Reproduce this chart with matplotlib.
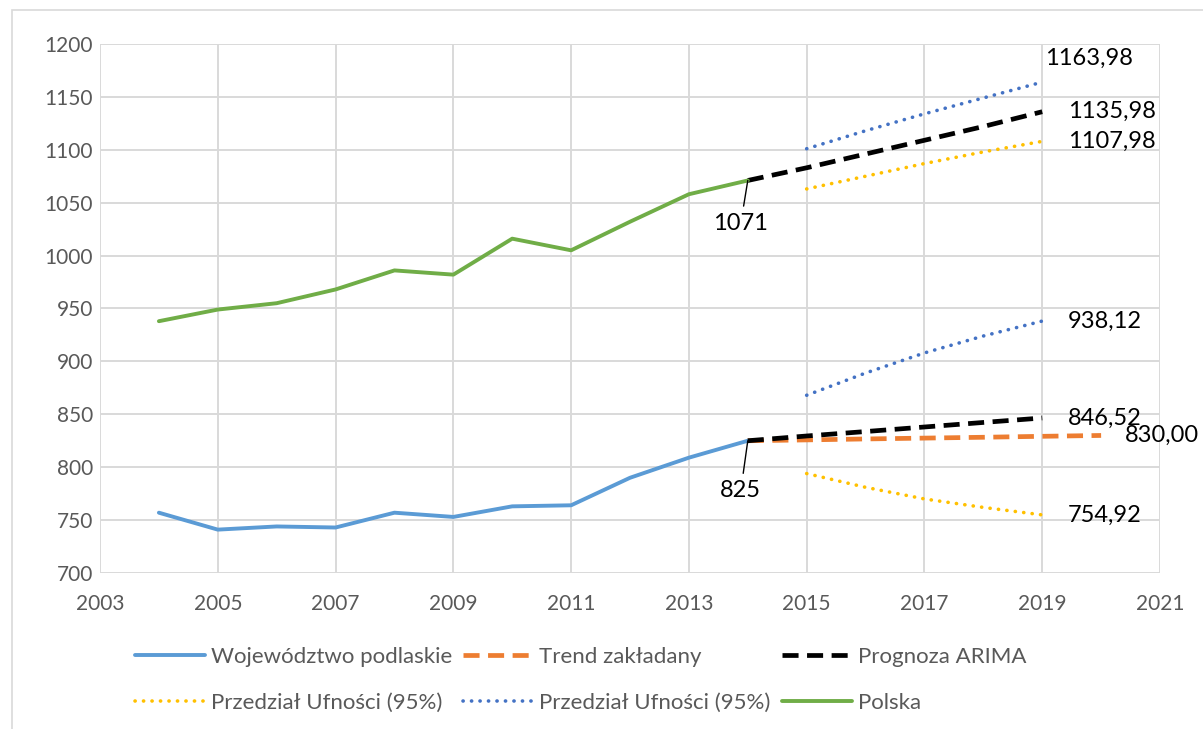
import matplotlib
matplotlib.use("Agg")
import matplotlib.pyplot as plt
from matplotlib.patches import Rectangle

plt.rcParams['font.family'] = ['Lato', 'DejaVu Sans']

# ---- data ----
years_hist = [2004, 2005, 2006, 2007, 2008, 2009, 2010, 2011, 2012, 2013, 2014]
podlaskie = [757, 741, 744, 743, 757, 753, 763, 764, 790, 809, 825]
polska = [938, 949, 955, 968, 986, 982, 1016, 1005, 1032, 1058, 1071]

years_fc = [2014, 2015, 2016, 2017, 2018, 2019]
arima_podl = [825, 829.5, 833.7, 838, 842.3, 846.52]
arima_pol = [1071, 1083, 1096, 1109, 1122, 1135.98]

years_ci = [2015, 2016, 2017, 2018, 2019]
lower_podl = [794, 781, 770, 762, 754.92]
upper_podl = [868, 889, 908, 924, 938.12]
lower_pol = [1063, 1075, 1087, 1098, 1107.98]
upper_pol = [1101, 1118, 1134, 1149, 1163.98]

years_trend = [2014, 2015, 2016, 2017, 2018, 2019, 2020]
trend = [825, 825.8, 826.7, 827.5, 828.3, 829.2, 830.0]

labels = ["Województwo podlaskie", "Trend zakładany", "Prognoza ARIMA",
          "Przedział Ufności (95%)", "Przedział Ufności (95%)", "Polska"]

c_blue = "#5B9BD5"
c_orange = "#ED7D31"
c_black = "#000000"
c_yellow = "#FFC000"
c_dblue = "#4472C4"
c_green = "#70AD47"
c_text = "#595959"

fig = plt.figure(figsize=(12.03, 7.29), dpi=100)
W, H = 1203, 729
ax = fig.add_axes([100 / W, 1 - 573 / H, (1160 - 100) / W, (573 - 44) / H])

dash = (0, (3.4, 1.8))
dot = (0, (0.05, 2.3))

l_podl, = ax.plot(years_hist, podlaskie, color=c_blue, lw=2.8, solid_capstyle='round', zorder=4)
l_trend, = ax.plot(years_trend, trend, color=c_orange, lw=3.4, linestyle=dash, zorder=3)
l_arima, = ax.plot(years_fc, arima_podl, color=c_black, lw=3.4, linestyle=dash, zorder=4)
ax.plot(years_fc, arima_pol, color=c_black, lw=3.4, linestyle=dash, zorder=4)
l_low, = ax.plot(years_ci, lower_podl, color=c_yellow, lw=2.6, linestyle=dot, dash_capstyle='round', zorder=3)
ax.plot(years_ci, lower_pol, color=c_yellow, lw=2.6, linestyle=dot, dash_capstyle='round', zorder=3)
l_up, = ax.plot(years_ci, upper_podl, color=c_dblue, lw=2.6, linestyle=dot, dash_capstyle='round', zorder=3)
ax.plot(years_ci, upper_pol, color=c_dblue, lw=2.6, linestyle=dot, dash_capstyle='round', zorder=3)
l_pol, = ax.plot(years_hist, polska, color=c_green, lw=2.8, solid_capstyle='round', zorder=4)

ax.set_xlim(2003, 2021)
ax.set_ylim(700, 1200)
ax.set_xticks(range(2003, 2022, 2))
ax.set_yticks(range(700, 1201, 50))
ax.grid(True, color="#D9D9D9", lw=1.4)
ax.set_axisbelow(True)
for s in ax.spines.values():
    s.set_visible(False)
ax.tick_params(length=0, labelsize=15, labelcolor=c_text)
ax.tick_params(axis='x', pad=15)
ax.tick_params(axis='y', pad=5)

# data labels
lab_fs = 17
def lab(x, y, txt, dx, dy, ha='left'):
    ax.annotate(txt, (x, y), xytext=(dx, dy), textcoords='offset pixels',
                ha=ha, va='center', fontsize=lab_fs, color='black', zorder=6,
                annotation_clip=False)

lab(years_ci[-1], upper_pol[-1], "1163,98", 3, 24)
lab(years_fc[-1], arima_pol[-1], "1135,98", 26, 0)
lab(years_ci[-1], lower_pol[-1], "1107,98", 26, 0)
lab(years_ci[-1], upper_podl[-1], "938,12", 26, 0)
lab(years_fc[-1], arima_podl[-1], "846,52", 26, 0)
lab(years_trend[-1], trend[-1], "830,00", 24, 0)
lab(years_ci[-1], lower_podl[-1], "754,92", 26, 0)

# leader labels
for y0, txt, off in [(arima_pol[0], "1071", -43), (arima_podl[0], "825", -50)]:
    ax.annotate(txt, (years_fc[0], y0), xytext=(-7, off), textcoords='offset pixels',
                ha='center', va='center', fontsize=lab_fs, color='black', zorder=6,
                arrowprops=dict(arrowstyle='-', color='black', lw=1.0,
                                shrinkA=3, shrinkB=0))

handles = [l_podl, l_low, l_trend, l_up, l_arima, l_pol]
leg_labels = [labels[0], labels[3], labels[1], labels[4], labels[2], labels[5]]
leg = fig.legend(handles, leg_labels, ncol=3, loc='upper left',
                 bbox_to_anchor=(135 / W, 1 - 647 / H), frameon=False,
                 fontsize=16, handlelength=3.15, handletextpad=0.27,
                 columnspacing=0.5, labelspacing=1.15, borderaxespad=0, borderpad=0)
for t in leg.get_texts():
    t.set_color(c_text)

# outer chart border
fig.patches.append(Rectangle((12 / W, -0.05), 1.2, 1 - 10 / H + 0.05,
                             transform=fig.transFigure, fill=False,
                             edgecolor="#D9D9D9", lw=1.2))

fig.savefig("out.png", dpi=100)
